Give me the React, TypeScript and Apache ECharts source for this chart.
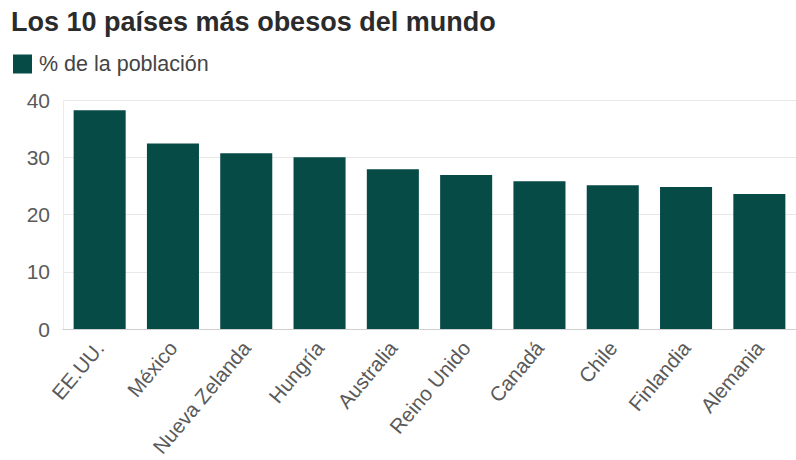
import React, { useEffect, useRef } from "react";
import * as echarts from "echarts";

const TITLE = "Los 10 países más obesos del mundo";
const SERIES_NAME = "% de la población";
const countries = [
  "EE.UU.",
  "México",
  "Nueva Zelanda",
  "Hungría",
  "Australia",
  "Reino Unido",
  "Canadá",
  "Chile",
  "Finlandia",
  "Alemania",
];
const obesity = [38.2, 32.4, 30.7, 30.0, 27.9, 26.9, 25.8, 25.1, 24.8, 23.6];
const yTicks = [0, 10, 20, 30, 40];

export default function App() {
  const ref = useRef<HTMLDivElement>(null);
  useEffect(() => {
    if (!ref.current) return;
    const chart = echarts.init(ref.current, null, { renderer: "svg" });
    const font = "Arial, 'Liberation Sans', Helvetica, sans-serif";
    chart.setOption({
      animation: false,
      backgroundColor: "#ffffff",
      textStyle: { fontFamily: font },
      title: {
        text: TITLE,
        left: 11,
        top: 8,
        padding: 0,
        textStyle: { fontSize: 27, fontWeight: "bold", color: "#2b2b2b", fontFamily: font },
      },
      legend: {
        left: 13,
        top: 53,
        padding: 0,
        icon: "rect",
        itemWidth: 19,
        itemHeight: 19,
        itemGap: 8,
        data: [SERIES_NAME],
        textStyle: { fontSize: 21.5, color: "#444444", fontFamily: font, padding: [0, 0, 0, 2] },
      },
      grid: { left: 63, right: 0, top: 100, bottom: 131, containLabel: false },
      xAxis: {
        type: "category",
        data: countries,
        axisLine: { show: true, lineStyle: { color: "#cfcfcf", width: 1 } },
        axisTick: { show: false },
        axisLabel: {
          rotate: 50,
          margin: 15,
          fontSize: 20.5,
          color: "#5a5a5a",
          fontFamily: font,
          interval: 0,
        },
      },
      yAxis: {
        type: "value",
        min: yTicks[0],
        max: yTicks[yTicks.length - 1],
        interval: 10,
        axisLine: { show: true, lineStyle: { color: "#ececec" } },
        axisTick: { show: false },
        splitLine: { show: true, lineStyle: { color: "#e8e8e8", width: 1 } },
        axisLabel: { fontSize: 21, color: "#5a5a5a", margin: 13, fontFamily: font },
      },
      series: [
        {
          name: SERIES_NAME,
          type: "bar",
          data: obesity,
          barCategoryGap: "29%",
          itemStyle: { color: "#074b47" },
        },
      ],
    });
    return () => chart.dispose();
  }, []);
  return (
    <div
      ref={ref}
      style={{ position: "fixed", left: 0, top: 0, width: 796, height: 460 }}
    />
  );
}
